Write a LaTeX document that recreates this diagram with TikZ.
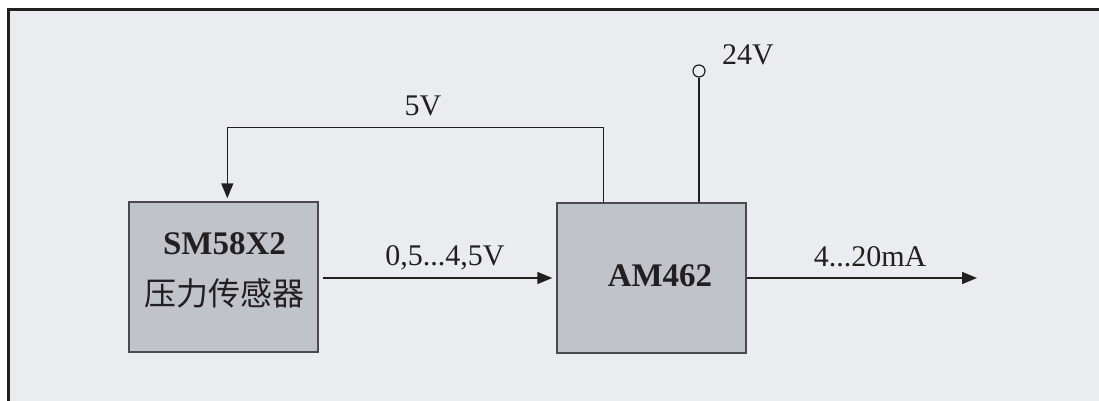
\documentclass[tikz,border=0pt]{standalone}
\usepackage{fontspec}
\setmainfont{Liberation Serif}
\newfontfamily\cjk{Noto Sans CJK SC}
\usetikzlibrary{arrows.meta,calc}
\definecolor{bg}{HTML}{EBECF0}
\definecolor{boxfill}{HTML}{C0C3CA}
\definecolor{ink}{HTML}{231F20}
\definecolor{boxline}{HTML}{4A4A4C}
\tikzset{
  blk/.style={draw=boxline, fill=boxfill, line width=1.4pt, minimum width=189pt, minimum height=150pt, inner sep=0pt},
  conn/.style={draw=ink, line width=1.4pt},
  tip/.style={-{Triangle[length=15pt,width=12pt]}},
  lbl/.style={text=ink, font=\fontsize{30}{36}\selectfont, inner sep=0pt, anchor=base},
  bold/.style={text=ink, font=\fontsize{33}{40}\selectfont\bfseries, inner sep=0pt, anchor=base},
  cjklbl/.style={text=ink, font=\fontsize{32}{40}\selectfont\cjk, inner sep=0pt, anchor=base},
}
\begin{document}
\begin{tikzpicture}[x=1pt,y=-1pt]
\useasboundingbox (0,0) rectangle (1099,401);
\fill[white] (0,0) rectangle (1099,401);
\fill[bg] (8.5,9.5) rectangle (1110,410);
\draw[ink, line width=3pt] (8.5,420) -- (8.5,9.5) -- (1110,9.5);

\node[blk] (sm) at (223.5,277) {};
\node[blk] (am) at (651.5,278) {};

\node[bold] (smt) at (224.5,254) {SM58X2};
\node[cjklbl] (smc) at (224,305) {压力传感器};
\node[bold] (amt) at (660,286) {AM462};

% signal
\draw[conn, tip, shorten <=4pt, shorten >=4pt] (sm.east |- 0,278) -- (am.west |- 0,278);
\node[lbl] (sig) at (445,265) {0,5...4,5V};

% output
\coordinate (out) at (977,278);
\draw[conn, tip] (am.east |- out) -- (out);
\node[lbl] (outl) at (870,266) {4...20mA};

% 5V feedback
\draw[conn, tip] ($(am.north west)+(47,0)$) -- ++(0,-75) -| ($(sm.north west)+(99,-3)$);
\node[lbl] (v5) at (423,115) {5V};

% 24V supply
\node[circle, draw=ink, line width=1.2pt, minimum size=12pt, inner sep=0pt] (vin) at (699,71) {};
\draw[conn] (vin.south) -- (vin.south |- am.north);
\node[lbl, anchor=base west] (v24) at (722,65) {24V};
\end{tikzpicture}
\end{document}
